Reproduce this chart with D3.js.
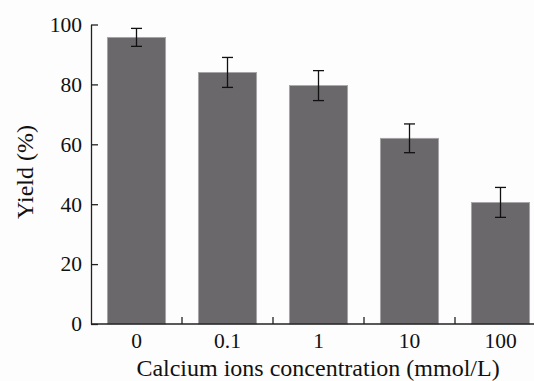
<!DOCTYPE html>
<html>
<head>
<meta charset="utf-8">
<script src="https://cdn.jsdelivr.net/npm/d3@7/dist/d3.min.js"></script>
<style>
  body { margin: 0; background: #fdfdfd; }
  svg { display: block; }
  text { font-family: "Liberation Serif", "Times New Roman", serif; fill: #111; }
</style>
</head>
<body>
<svg width="534" height="381"></svg>
<script>
// concentrations (mmol/L) and yields (%) with error bars
var categories = ["0", "0.1", "1", "10", "100"];
var yields = [95.7, 84.0, 79.6, 62.0, 40.6];
var errors = [3.0, 5.0, 5.0, 4.8, 5.0];
var yTicks = [0, 20, 40, 60, 80, 100];

(function () {
  var svg = d3.select("svg");
  var left = 91, bottom = 324, top = 24.5, right = 546;

  var x = d3.scaleBand()
    .domain(categories)
    .range([left, right])
    .paddingInner(0.36)
    .paddingOuter(0.18);

  var y = d3.scaleLinear()
    .domain([0, 100])
    .range([bottom, top]);

  // bars
  svg.append("g").selectAll("rect")
    .data(categories)
    .enter().append("rect")
    .attr("x", function (d) { return x(d); })
    .attr("y", function (d, i) { return y(yields[i]); })
    .attr("width", x.bandwidth())
    .attr("height", function (d, i) { return bottom - y(yields[i]); })
    .attr("fill", "#6b686b")
    .attr("stroke", "#a8a6a8")
    .attr("stroke-width", 0.8);

  // error bars
  var eb = svg.append("g").attr("stroke", "#111").attr("stroke-width", 1.3);
  categories.forEach(function (d, i) {
    var cx = x(d) + x.bandwidth() / 2,
      y1 = y(yields[i] + errors[i]),
      y2 = y(yields[i] - errors[i]);
    eb.append("line").attr("x1", cx).attr("x2", cx).attr("y1", y1).attr("y2", y2);
    eb.append("line").attr("x1", cx - 5.5).attr("x2", cx + 5.5).attr("y1", y1).attr("y2", y1);
    eb.append("line").attr("x1", cx - 5.5).attr("x2", cx + 5.5).attr("y1", y2).attr("y2", y2);
  });

  // y axis, ticks pointing inward
  var yAxis = svg.append("g")
    .attr("transform", "translate(" + left + ",0)")
    .call(d3.axisRight(y).tickValues(yTicks).tickSize(7).tickSizeOuter(0).tickFormat(""));
  yAxis.select(".domain").attr("stroke", "#222").attr("stroke-width", 1.3);
  yAxis.selectAll(".tick line").attr("stroke", "#222").attr("stroke-width", 1.3);

  svg.append("g").selectAll("text")
    .data(yTicks)
    .enter().append("text")
    .attr("x", 82)
    .attr("y", function (d) { return y(d); })
    .attr("dy", "0.34em")
    .attr("text-anchor", "end")
    .style("font-size", "21.5px")
    .text(function (d) { return d; });

  // x axis with separators between categories
  var xAxis = svg.append("g")
    .attr("transform", "translate(0," + bottom + ")");
  xAxis.append("line")
    .attr("x1", left).attr("x2", 534)
    .attr("stroke", "#222").attr("stroke-width", 1.3);
  var step = x.step();
  xAxis.selectAll(".sep")
    .data(categories.slice(0, categories.length - 1))
    .enter().append("line")
    .attr("class", "sep")
    .attr("x1", function (d) { return x(d) + x.bandwidth() + (step - x.bandwidth()) / 2; })
    .attr("x2", function (d) { return x(d) + x.bandwidth() + (step - x.bandwidth()) / 2; })
    .attr("y1", 0).attr("y2", -7)
    .attr("stroke", "#222").attr("stroke-width", 1.3);

  xAxis.selectAll(".lbl")
    .data(categories)
    .enter().append("text")
    .attr("class", "lbl")
    .attr("x", function (d) { return x(d) + x.bandwidth() / 2; })
    .attr("y", 24)
    .attr("text-anchor", "middle")
    .style("font-size", "21.5px")
    .text(function (d) { return d; });

  // axis titles
  svg.append("text")
    .attr("x", 318)
    .attr("y", 376)
    .attr("text-anchor", "middle")
    .style("font-size", "24px")
    .text("Calcium ions concentration (mmol/L)");

  svg.append("text")
    .attr("transform", "translate(33,172) rotate(-90)")
    .attr("text-anchor", "middle")
    .style("font-size", "24px")
    .text("Yield (%)");
})();
</script>
</body>
</html>
